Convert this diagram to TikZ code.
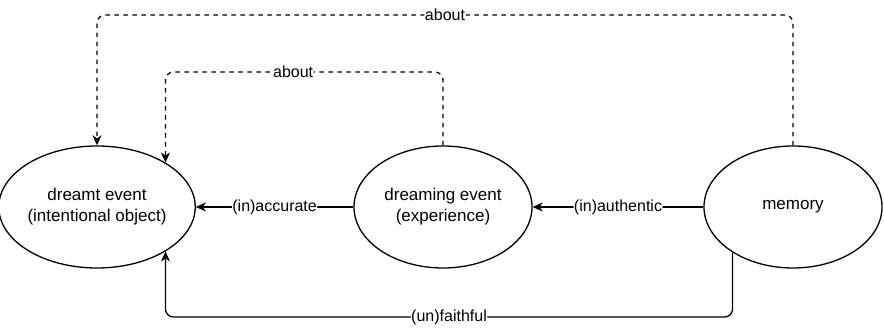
\documentclass[tikz,border=0pt]{standalone}
\usepackage{fontspec}
\setmainfont{Liberation Sans}
\usetikzlibrary{shapes.geometric,arrows.meta,calc}
\begin{document}
\begin{tikzpicture}[x=1pt,y=1pt,
  ell/.style={ellipse,draw,line width=1.3pt,minimum width=178pt,minimum height=122pt,inner sep=0pt,align=center,font=\fontsize{17}{21}\selectfont},
  conn/.style={line width=1.3pt,rounded corners=8pt,-{Stealth[length=10pt,width=9pt,inset=3pt]}},
  dashconn/.style={conn,dash pattern=on 4.5pt off 4.5pt},
  lab/.style={fill=white,inner sep=0.5pt,font=\fontsize{16}{19}\selectfont}]
\useasboundingbox (0,0) rectangle (884,-328);
\node[ell] (L) at (97,-207) {dreamt event\\(intentional object)};
\node[ell] (M) at (443,-207) {dreaming event\\(experience)};
\node[ell] (R) at (793,-207) {memory};
\coordinate (yo) at (0,-15);
\coordinate (yi) at (0,-72);
\coordinate (yf) at (0,-317);
\draw[conn] (M.west) -- node[lab] {(in)accurate} (L.east);
\draw[conn] (R.west) -- node[lab] {(in)authentic} (M.east);
\draw[dashconn] (R.north) -- (R.north |- yo) -- node[lab] {about} (L.north |- yo) -- (L.north);
\draw[dashconn] (M.north) -- (M.north |- yi) -- node[lab,pos=0.54] {about} (L.33 |- yi) -- (L.33);
\draw[conn] (R.217) -- (R.217 |- yf) -- node[lab] {(un)faithful} (L.-33 |- yf) -- (L.-33);
\end{tikzpicture}
\end{document}
